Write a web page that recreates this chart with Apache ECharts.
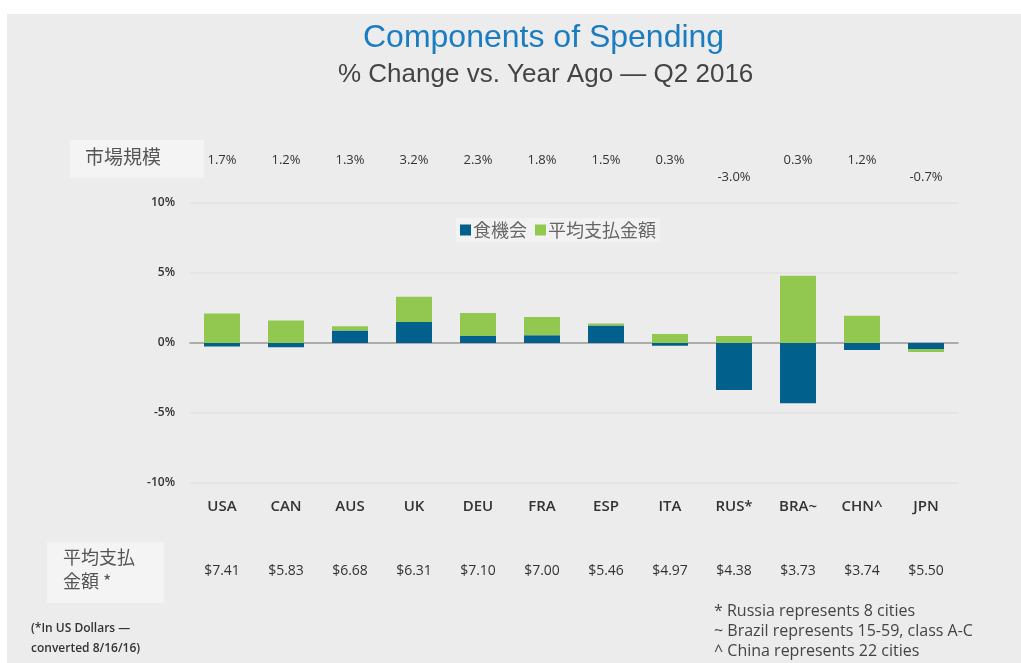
<!DOCTYPE html>
<html>
<head>
<meta charset="utf-8">
<script src="https://cdn.jsdelivr.net/npm/echarts@6/dist/echarts.min.js"></script>
<style>
  html, body { margin: 0; padding: 0; background: #fff; }
  #chart { width: 1021px; height: 663px; }
</style>
</head>
<body>
<div id="chart"></div>
<script>
// 国・地域
var countries = ['USA', 'CAN', 'AUS', 'UK', 'DEU', 'FRA', 'ESP', 'ITA', 'RUS*', 'BRA~', 'CHN^', 'JPN']
// 食機会 (% change)
var occasions = [-0.25, -0.3, 0.9, 1.5, 0.5, 0.55, 1.25, -0.2, -3.35, -4.3, -0.5, -0.42]
// 平均支払金額 (% change)
var avgSpend = [2.1, 1.6, 0.3, 1.8, 1.65, 1.3, 0.15, 0.65, 0.5, 4.8, 1.95, -0.22]
// 市場規模
var marketSize = ['1.7%', '1.2%', '1.3%', '3.2%', '2.3%', '1.8%', '1.5%', '0.3%', '-3.0%', '0.3%', '1.2%', '-0.7%']
// 平均支払金額 (US$)
var avgPrice = ['$7.41', '$5.83', '$6.68', '$6.31', '$7.10', '$7.00', '$5.46', '$4.97', '$4.38', '$3.73', '$3.74', '$5.50']
var yTicks = [-10, -5, 0, 5, 10]

var narrow = '"Open Sans", sans-serif'
var cjk = '"Noto Sans CJK JP", sans-serif'

var chart = echarts.init(document.getElementById('chart'))

var option = {
  backgroundColor: '#fff',
  animation: false,
  color: ['#02608c', '#92c850'],
  graphic: [
    {
      type: 'rect', z: -10,
      shape: { x: 7, y: 14, width: 1014, height: 649 },
      style: { fill: '#ececec' }
    },
    {
      type: 'rect', z: -5,
      shape: { x: 70, y: 140, width: 134, height: 38 },
      style: { fill: '#f4f4f4' }
    },
    {
      type: 'rect', z: -5,
      shape: { x: 47, y: 542, width: 117, height: 61 },
      style: { fill: '#f4f4f4' }
    },
    {
      type: 'text', left: 85, top: 147,
      style: { text: '市場規模', font: '19px ' + cjk, fill: '#555' }
    },
    {
      type: 'text', left: 63, top: 545,
      style: { text: '平均支払\n金額 *', font: '18px ' + cjk, fill: '#555', lineHeight: 24 }
    },
    {
      type: 'text', left: 31, top: 619,
      style: {
        text: '(*In US Dollars —\nconverted 8/16/16)',
        font: '600 12px ' + narrow, fill: '#333', lineHeight: 20
      }
    },
    {
      type: 'text', left: 714, top: 601,
      style: {
        text: '* Russia represents 8 cities\n~ Brazil represents 15-59, class A-C\n^ China represents 22 cities',
        font: '16px ' + narrow, fill: '#444', lineHeight: 20
      }
    }
  ],
  title: [
    {
      text: 'Components of Spending',
      left: 358, top: 17,
      textStyle: { color: '#1a7cc1', fontSize: 32, fontWeight: 'normal', fontFamily: 'Liberation Sans' }
    },
    {
      text: '% Change vs. Year Ago — Q2 2016',
      left: 333, top: 57,
      textStyle: { color: '#444', fontSize: 26, fontWeight: 'normal', fontFamily: 'Liberation Sans' }
    }
  ],
  legend: {
    left: 456, top: 218,
    itemWidth: 11, itemHeight: 11, itemGap: 8,
    padding: [3, 4],
    backgroundColor: '#f2f2f2',
    icon: 'rect',
    textStyle: { fontFamily: cjk, fontSize: 18, color: '#666', padding: [0, 0, 0, -3] },
    data: ['食機会', '平均支払金額']
  },
  grid: { left: 190, right: 63, top: 203, bottom: 180 },
  xAxis: [
    {
      type: 'category',
      data: countries,
      axisLine: { onZero: true, lineStyle: { color: '#9a9a9a', width: 1.5 } },
      axisTick: { show: false },
      axisLabel: { show: false }
    },
    {
      type: 'category',
      data: marketSize,
      position: 'top',
      axisLine: { show: false },
      axisTick: { show: false },
      axisLabel: {
        interval: 0, margin: 17, color: '#333', fontSize: 13, fontFamily: narrow,
        lineHeight: 17,
        formatter: function (v) { return v.charAt(0) === '-' ? ' \n' + v : v + '\n ' }
      }
    },
    {
      type: 'category',
      data: avgPrice,
      position: 'bottom',
      offset: 78,
      axisLine: { show: false },
      axisTick: { show: false },
      axisLabel: { interval: 0, margin: 3, color: '#333', fontSize: 14, fontFamily: narrow }
    },
    {
      type: 'category',
      data: countries,
      position: 'bottom',
      offset: 16,
      axisLine: { show: false },
      axisTick: { show: false },
      axisLabel: {
        interval: 0, margin: 0, color: '#333', fontSize: 15, fontWeight: 600,
        fontFamily: 'Open Sans'
      }
    }
  ],
  yAxis: {
    type: 'value',
    min: yTicks[0], max: yTicks[yTicks.length - 1], interval: 5,
    axisLine: { show: false },
    axisTick: { show: false },
    splitLine: { lineStyle: { color: '#e2e2e2', width: 1.5 } },
    axisLabel: {
      margin: 15, color: '#333', fontSize: 12, fontWeight: 600, fontFamily: 'Open Sans',
      formatter: '{value}%'
    }
  },
  series: [
    {
      name: '食機会', type: 'bar', stack: 'total', barWidth: 36,
      data: occasions
    },
    {
      name: '平均支払金額', type: 'bar', stack: 'total', barWidth: 36,
      data: avgSpend
    }
  ]
}

chart.setOption(option)
</script>
</body>
</html>
